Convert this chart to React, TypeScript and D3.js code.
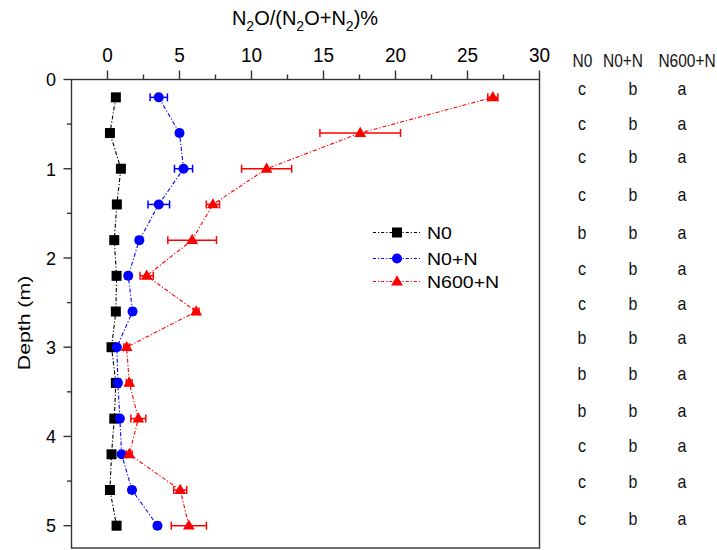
import React from "react";
import * as d3 from "d3";

const depths = [0.2, 0.6, 1.0, 1.4, 1.8, 2.2, 2.6, 3.0, 3.4, 3.8, 4.2, 4.6, 5.0];
const n0 = [0.58, 0.17, 0.93, 0.65, 0.47, 0.63, 0.58, 0.28, 0.58, 0.47, 0.28, 0.17, 0.63];
const n0Err = [0.1, 0.1, 0.1, 0.1, 0.1, 0.1, 0.1, 0.1, 0.1, 0.1, 0.1, 0.1, 0.1];
const n0n = [3.56, 5.0, 5.28, 3.56, 2.21, 1.44, 1.74, 0.65, 0.72, 0.86, 0.98, 1.7, 3.47];
const n0nErr = [0.6, 0.2, 0.63, 0.75, 0.2, 0.2, 0.2, 0.1, 0.1, 0.1, 0.1, 0.2, 0.2];
const n600 = [26.76, 17.55, 11.05, 7.32, 5.88, 2.72, 6.16, 1.33, 1.51, 2.14, 1.51, 5.05, 5.65];
const n600Err = [0.35, 2.8, 1.74, 0.46, 1.69, 0.46, 0.2, 0.2, 0.2, 0.52, 0.2, 0.45, 1.22];

const seriesNames = ["N0", "N0+N", "N600+N"];
const xTicks = [0, 5, 10, 15, 20, 25, 30];
const xMinor = [2.5, 7.5, 12.5, 17.5, 22.5, 27.5];
const yTicks = [0, 1, 2, 3, 4, 5];
const yMinor = [0.5, 1.5, 2.5, 3.5, 4.5];

const lettersN0 = ["c", "c", "c", "c", "b", "c", "c", "b", "b", "b", "c", "c", "c"];
const lettersN0N = ["b", "b", "b", "b", "b", "b", "b", "b", "b", "b", "b", "b", "b"];
const lettersN600 = ["a", "a", "a", "a", "a", "a", "a", "a", "a", "a", "a", "a", "a"];
const letterRowCenters = [90, 125, 158.3, 195.7, 234.3, 270, 305, 339.3, 375, 411.7, 447.3, 483.3, 520];

const FONT = "'Liberation Sans', Arial, sans-serif";

function T({ x, y, size, sx = 1, sy = 1, anchor = "start", rotate = 0, fill = "#000", children }: any) {
  return (
    <text
      transform={`translate(${x},${y}) scale(${sx},${sy})${rotate ? ` rotate(${rotate})` : ""}`}
      fontSize={size}
      fontFamily={FONT}
      textAnchor={anchor}
      fill={fill}
    >
      {children}
    </text>
  );
}

export default function App() {
  const x = d3.scaleLinear().domain([-2.5, 30]).range([71.5, 539.5]);
  const y = d3.scaleLinear().domain([0, 5.25]).range([79.5, 548]);
  const axisColor = "#333";

  const series = [
    { name: seriesNames[0], vals: n0, err: n0Err, color: "#000", shape: "square" },
    { name: seriesNames[1], vals: n0n, err: n0nErr, color: "#0000ff", shape: "circle" },
    { name: seriesNames[2], vals: n600, err: n600Err, color: "#ff0000", shape: "triangle" },
  ];

  const marker = (shape: string, cx: number, cy: number, color: string, key?: any) => {
    if (shape === "square") return <rect key={key} x={cx - 5} y={cy - 5} width={10} height={10} fill={color} />;
    if (shape === "circle") return <circle key={key} cx={cx} cy={cy} r={5} fill={color} />;
    const p = d3.symbol().type(d3.symbolTriangle).size(60)();
    return <path key={key} d={p || ""} transform={`translate(${cx},${cy + 0.5})`} fill={color} />;
  };

  const line = (vals: number[]) =>
    d3.line<number>().x((v) => x(v)).y((_, i) => y(depths[i]))(vals) || "";

  const legendY = [232.5, 258.5, 281.5];
  const letterCols = [
    { cx: 582, letters: lettersN0 },
    { cx: 633, letters: lettersN0N },
    { cx: 682, letters: lettersN600 },
  ];
  const headerX = [582.5, 623, 687];

  return (
    <svg width={717} height={550} style={{ position: "absolute", left: 0, top: 0, background: "#fff" }}>
      <rect width={717} height={550} fill="#fff" />
      {/* title */}
      <text x={305} y={25} fontSize={20} fontFamily={FONT} textAnchor="middle" fill="#000">
        N<tspan fontSize={14} dy={6}>2</tspan>
        <tspan dy={-6}>O/(N</tspan>
        <tspan fontSize={14} dy={6}>2</tspan>
        <tspan dy={-6}>O+N</tspan>
        <tspan fontSize={14} dy={6}>2</tspan>
        <tspan dy={-6}>)%</tspan>
      </text>

      {/* box */}
      <rect x={x(-2.5)} y={y(0)} width={x(30) - x(-2.5)} height={y(5.25) - y(0)} fill="none" stroke={axisColor} strokeWidth={1.4} />

      {/* top ticks */}
      {xTicks.map((t) => (
        <g key={"xt" + t}>
          <line x1={x(t)} x2={x(t)} y1={y(0)} y2={y(0) - 9} stroke={axisColor} strokeWidth={1.4} />
          <T x={x(t)} y={62} size={19} sy={1.08} anchor="middle">{String(t)}</T>
        </g>
      ))}
      {xMinor.map((t) => (
        <line key={"xm" + t} x1={x(t)} x2={x(t)} y1={y(0)} y2={y(0) - 5} stroke={axisColor} strokeWidth={1.4} />
      ))}

      {/* left ticks */}
      {yTicks.map((t) => (
        <g key={"yt" + t}>
          <line x1={x(-2.5)} x2={x(-2.5) - 8} y1={y(t)} y2={y(t)} stroke={axisColor} strokeWidth={1.4} />
          <T x={56} y={y(t) + 6.8} size={18} sy={1.05} anchor="end">{String(t)}</T>
        </g>
      ))}
      {yMinor.map((t) => (
        <line key={"ym" + t} x1={x(-2.5)} x2={x(-2.5) - 4.5} y1={y(t)} y2={y(t)} stroke={axisColor} strokeWidth={1.4} />
      ))}

      <T x={30} y={323} size={17} sy={1.25} anchor="middle" rotate={-90}>Depth (m)</T>

      {/* series */}
      {series.map((s) => (
        <g key={s.name}>
          <path d={line(s.vals)} fill="none" stroke={s.color} strokeWidth={1.1} strokeDasharray="4,2,1.2,2" />
          {s.vals.map((v, i) => {
            const cy = y(depths[i]);
            const x1 = x(v - s.err[i]);
            const x2 = x(v + s.err[i]);
            return (
              <g key={i}>
                <line x1={x1} x2={x2} y1={cy} y2={cy} stroke={s.color} strokeWidth={1.5} />
                <line x1={x1} x2={x1} y1={cy - 4} y2={cy + 4} stroke={s.color} strokeWidth={1.5} />
                <line x1={x2} x2={x2} y1={cy - 4} y2={cy + 4} stroke={s.color} strokeWidth={1.5} />
              </g>
            );
          })}
          {s.vals.map((v, i) => marker(s.shape, x(v), y(depths[i]), s.color, "m" + i))}
        </g>
      ))}

      {/* legend */}
      {series.map((s, i) => (
        <g key={"lg" + i}>
          <line x1={373} x2={420} y1={legendY[i]} y2={legendY[i]} stroke={s.color} strokeWidth={1.1} strokeDasharray="3,2,1.2,2" />
          {marker(s.shape, 397, legendY[i], s.color)}
          <T x={427} y={legendY[i] + 6.2} size={17} sx={1.15} sy={1.02}>{s.name}</T>
        </g>
      ))}

      {/* letters table */}
      {seriesNames.map((n, i) => (
        <T key={"h" + i} x={headerX[i]} y={66.5} size={15.5} sy={1.15} anchor="middle" fill="#111">{n}</T>
      ))}
      {letterCols.map((c, ci) =>
        c.letters.map((l, ri) => (
          <T key={"l" + ci + "-" + ri} x={c.cx} y={letterRowCenters[ri] + 4.8} size={16} sy={1.15} anchor="middle" fill="#111">{l}</T>
        ))
      )}
    </svg>
  );
}
